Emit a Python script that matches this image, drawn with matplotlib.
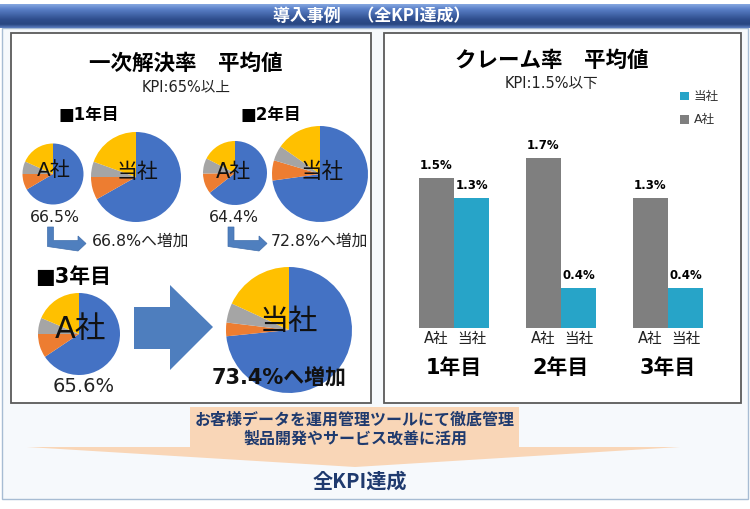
import numpy as np
import matplotlib
matplotlib.use('Agg')
import matplotlib.pyplot as plt
from matplotlib.patches import Polygon, Rectangle
from matplotlib.colors import LinearSegmentedColormap
import matplotlib.transforms as mtransforms

plt.rcParams['font.family'] = ['DejaVu Sans', 'Noto Sans CJK JP']
JP = ['Noto Sans CJK JP', 'DejaVu Sans']

# ---------------- data ----------------
years = ['1年目', '2年目', '3年目']
companies = ['A社', '当社']
fcr_a = [66.5, 64.4, 65.6]          # A社 一次解決率 (%)
fcr_t = [66.8, 72.8, 73.4]          # 当社 一次解決率 (%)
other_a = [[8.5, 6.7, 18.3], [10.3, 7.8, 17.5], [9.4, 6.4, 18.6]]   # remaining slices
other_t = [[8.2, 5.5, 19.5], [6.8, 5.1, 15.3], [3.5, 5.0, 18.1]]
claim_a = [1.5, 1.7, 1.3]           # クレーム率 A社 (%)
claim_t = [1.3, 0.4, 0.4]           # クレーム率 当社 (%)
title_main = '導入事例　（全KPI達成）'
title_fcr = '一次解決率　平均値'
kpi_fcr = 'KPI:65%以上'
title_claim = 'クレーム率　平均値'
kpi_claim = 'KPI:1.5%以下'
msg1 = 'お客様データを運用管理ツールにて徹底管理'
msg2 = '製品開発やサービス改善に活用'
result = '全KPI達成'

PIE_COLORS = ['#4472C4', '#ED7D31', '#A5A5A5', '#FFC000']
GRAY = '#7F7F7F'
TEAL = '#27A4C8'
NAVY = '#1F3A6E'

W, H = 750, 509
fig = plt.figure(figsize=(W / 100, H / 100), dpi=100)

# background / decoration axes in pixel coordinates
bg = fig.add_axes([0, 0, 1, 1])
bg.axis('off')
cmap = LinearSegmentedColormap.from_list('bar', [(0, '#86A7E0'), (0.2, '#5A80C8'),
                                                 (0.65, '#2E4D8C'), (0.85, '#284681'),
                                                 (1, '#5C7FC0')])
grad = np.linspace(0, 1, 64).reshape(-1, 1)
bg.imshow(grad, cmap=cmap, extent=(0, W, 28, 4), aspect='auto', zorder=1)
bg.set_xlim(0, W)
bg.set_ylim(H, 0)

bg.add_patch(Rectangle((2, 28), 746, 471, fc='#F6F9FC', ec='#A7BCD3', lw=1, zorder=0.5))
bg.add_patch(Rectangle((10.5, 33), 360.5, 370, fc='white', ec='#5A5A5A', lw=1.3, zorder=2))
bg.add_patch(Rectangle((384, 33), 357, 370, fc='white', ec='#5A5A5A', lw=1.3, zorder=2))

# bottom peach arrow
bg.add_patch(Polygon([(190, 407), (519, 407), (519, 447), (680, 447), (355, 467),
                      (27, 447), (190, 447)], closed=True, fc='#F9D6B7', ec='none', zorder=2))

# elbow arrows
def elbow(x0, y0, yh, xhead, xtip, t=6, h=7.5):
    pts = [(x0, y0), (x0 + t, y0), (x0 + t, yh - t / 2), (xhead, yh - t / 2),
           (xhead, yh - h), (xtip, yh), (xhead, yh + h), (x0, yh + t / 2)]
    bg.add_patch(Polygon(pts, closed=True, fc='#4F7FBE', ec='#416FAD', lw=0.5, zorder=3))

elbow(47.5, 227, 243.5, 78, 86)
elbow(228, 227, 243.5, 259, 267)

# big block arrow
bg.add_patch(Polygon([(134, 307), (170, 307), (170, 285), (213, 327), (170, 370),
                      (170, 349), (134, 349)], closed=True, fc='#4E7EBE', ec='none', zorder=3))

# ---------------- pies ----------------
pos_a = [(53, 174, 30.5), (235, 173, 32), (79, 334, 41)]
pos_t = [(136, 177, 45), (320, 174, 48), (289, 330, 63)]

def pie_at(cx, cy, r, values):
    pax = fig.add_axes([(cx - r) / W, 1 - (cy + r) / H, 2 * r / W, 2 * r / H])
    pax.pie(values, colors=PIE_COLORS, startangle=90, counterclock=False, radius=1,
            wedgeprops=dict(linewidth=0))
    pax.set_aspect('auto')
    pax.set_xlim(-1, 1)
    pax.set_ylim(-1, 1)
    pax.axis('off')
    return pax

for i in range(3):
    pie_at(*pos_a[i], [fcr_a[i]] + other_a[i])
    pie_at(*pos_t[i], [fcr_t[i]] + other_t[i])

# ---------------- claim bar chart ----------------
ax = fig.add_axes([400.5 / W, 1 - 328 / H, 321 / W, 200 / H])
ax.patch.set_visible(False)
x = np.arange(len(years))
bw = 0.33
ba = ax.bar(x - bw / 2, claim_a, width=bw, color=GRAY, zorder=2)
bt = ax.bar(x + bw / 2, claim_t, width=bw, color=TEAL, zorder=2)
ax.bar_label(ba, labels=[f'{v}%' for v in claim_a], padding=4, fontsize=8.5,
             fontweight='bold', clip_on=False)
ax.bar_label(bt, labels=[f'{v}%' for v in claim_t], padding=4, fontsize=8.5,
             fontweight='bold', clip_on=False)
ax.set_xlim(-0.5, len(years) - 0.5)
ax.set_ylim(0, 2.0)
ax.set_yticks([])
ticks = np.concatenate([x - bw / 2, x + bw / 2])
ax.set_xticks(ticks)
ax.set_xticklabels([companies[0]] * len(x) + [companies[1]] * len(x), fontsize=10.5,
                   color='#222222')
ax.tick_params(axis='x', length=0, pad=2)
for s in ax.spines.values():
    s.set_visible(False)

# ---------------- overlay text ----------------
ov = fig.add_axes([0, 0, 1, 1])
ov.set_xlim(0, W)
ov.set_ylim(H, 0)
ov.axis('off')
ov.patch.set_visible(False)

ov.text(372, 16, title_main, color='white', fontsize=12.2, fontweight='bold',
        ha='center', va='center', family=JP)

# left panel
ov.text(186, 63, title_fcr, fontsize=15.5, fontweight='bold', ha='center', va='center', family=JP)
ov.text(186, 87, kpi_fcr, fontsize=10.5, ha='center', va='center', color='#222222')
ov.text(58, 115, f'■{years[0]}', fontsize=12, fontweight='bold', ha='left', va='center')
ov.text(240, 115, f'■{years[1]}', fontsize=12, fontweight='bold', ha='left', va='center')
ov.text(35, 277, f'■{years[2]}', fontsize=15, fontweight='bold', ha='left', va='center')

a_lab = [(54, 170, 14.5), (233, 172, 15), (80, 330, 22)]
t_lab = [(137.5, 172, 15), (322, 172, 15.5), (289, 322, 21)]
for i in range(3):
    ov.text(a_lab[i][0], a_lab[i][1], companies[0], fontsize=a_lab[i][2],
            ha='center', va='center', color='#111111')
    ov.text(t_lab[i][0], t_lab[i][1], companies[1], fontsize=t_lab[i][2],
            ha='center', va='center', color='#111111')

ov.text(55, 218, f'{fcr_a[0]}%', fontsize=11.3, ha='center', va='center', color='#222222')
ov.text(234, 218, f'{fcr_a[1]}%', fontsize=11.3, ha='center', va='center', color='#222222')
ov.text(84, 387, f'{fcr_a[2]}%', fontsize=14, ha='center', va='center', color='#222222')
ov.text(92, 241, f'{fcr_t[0]}%へ増加', fontsize=11.3, ha='left', va='center', color='#222222')
ov.text(271, 241, f'{fcr_t[1]}%へ増加', fontsize=11.3, ha='left', va='center', color='#222222')
ov.text(279, 378, f'{fcr_t[2]}%へ増加', fontsize=15, fontweight='bold', ha='center',
        va='center', color='#111111')

# right panel
ov.text(552, 60, title_claim, fontsize=15.5, fontweight='bold', ha='center', va='center', family=JP)
ov.text(552, 83, kpi_claim, fontsize=10.5, ha='center', va='center', color='#222222')
ov.add_patch(Rectangle((680, 91.5), 8.5, 8.5, fc=TEAL, ec='none'))
ov.text(694, 96, companies[1], fontsize=9, ha='left', va='center', color='#333333')
ov.add_patch(Rectangle((680, 115), 8.5, 9, fc=GRAY, ec='none'))
ov.text(694, 119, companies[0], fontsize=9, ha='left', va='center', color='#333333')

trans = mtransforms.blended_transform_factory(ax.transData, ov.transData)
for i, yl in enumerate(years):
    ov.text(x[i], 368, yl, transform=trans, fontsize=15, fontweight='bold',
            ha='center', va='center')

# bottom messages
ov.text(355, 420, msg1, fontsize=11.5, fontweight='bold', ha='center', va='center',
        color=NAVY, family=JP)
ov.text(355, 439, msg2, fontsize=11.5, fontweight='bold', ha='center', va='center',
        color=NAVY, family=JP)
ov.text(360, 481, result, fontsize=14.5, fontweight='bold', ha='center', va='center',
        color=NAVY, family=JP)

fig.savefig('out.png', dpi=100)
